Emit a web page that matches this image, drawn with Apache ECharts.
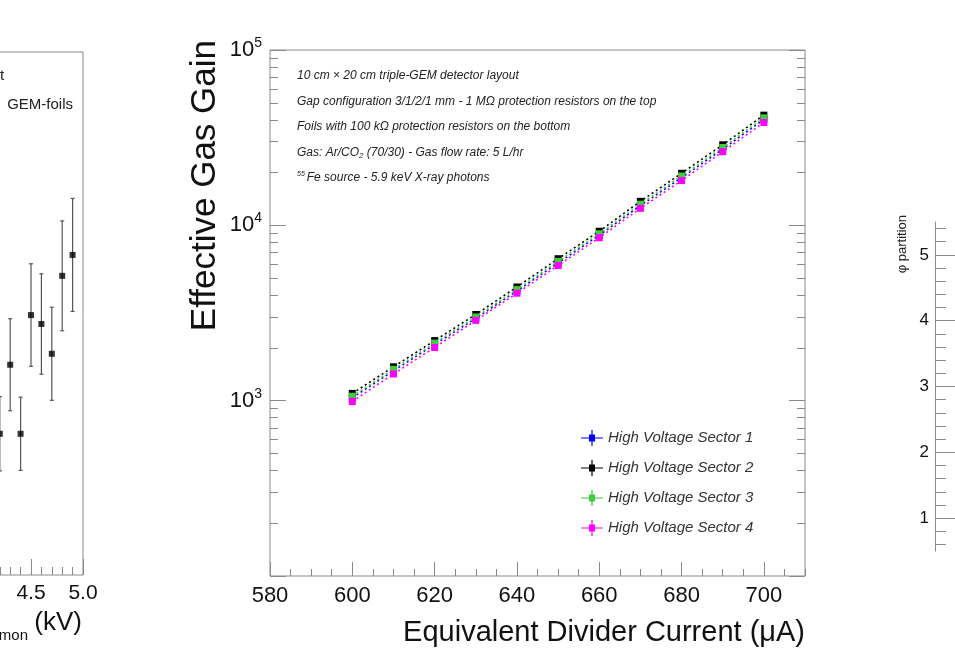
<!DOCTYPE html>
<html lang="en">
<head>
  <meta charset="UTF-8" />
  <title>Effective Gas Gain</title>
  <style>
    html, body { margin: 0; padding: 0; background: #fff; }
    #main { width: 955px; height: 649px; }
  </style>
</head>
<body>
  <div id="main"></div>
  <script src="https://cdn.jsdelivr.net/npm/echarts@6/dist/echarts.min.js"></script>
  <script type="text/javascript">
    // centre panel: gain vs equivalent divider current
    var current = [600, 610, 620, 630, 640, 650, 660, 670, 680, 690, 700]
    var sector1 = [1040, 1480, 2090, 2950, 4220, 6100, 8780, 12950, 18700, 27200, 40200]
    var sector2 = [1100, 1560, 2200, 3100, 4450, 6450, 9250, 13700, 19800, 28800, 42500]
    var sector3 = [1060, 1510, 2130, 3000, 4300, 6230, 8950, 13200, 19100, 27800, 41000]
    var sector4 = [990, 1420, 2010, 2870, 4100, 5900, 8500, 12500, 18000, 26300, 38600]
    var sectorNames = ['High Voltage Sector 1', 'High Voltage Sector 2', 'High Voltage Sector 3', 'High Voltage Sector 4']
    var sectorColors = ['#0000ff', '#000000', '#3fcc3f', '#ff00ff']

    var xMajor = [580, 600, 620, 640, 660, 680, 700]
    var gainDecades = [100, 1000, 10000, 100000]
    var gainLabels = [1000, 10000, 100000]
    var gainMinor = [200, 300, 400, 500, 600, 700, 800, 900,
      2000, 3000, 4000, 5000, 6000, 7000, 8000, 9000,
      20000, 30000, 40000, 50000, 60000, 70000, 80000, 90000]

    var notes = [
      '10 cm × 20 cm triple-GEM detector layout',
      'Gap configuration 3/1/2/1 mm - 1 MΩ protection resistors on the top',
      'Foils with 100 kΩ protection resistors on the bottom',
      'Gas: Ar/CO{sub|2} (70/30) - Gas flow rate: 5 L/hr',
      '{sup|55}Fe source - 5.9 keV X-ray photons'
    ]

    // left panel (cut off by the crop)
    var hvX = [4.2, 4.3, 4.4, 4.5, 4.6, 4.7, 4.8, 4.9]
    var hvY = [27.0, 40.2, 27.0, 49.7, 48.0, 42.3, 57.2, 61.2]
    var hvErr = [7.1, 8.8, 7.0, 9.8, 9.6, 8.9, 10.5, 10.8]
    var hvMajor = [4.0, 4.5, 5.0]
    var hvLabels = [4.5, 5.0]

    // right panel (cut off by the crop)
    var phiMajor = [1, 2, 3, 4, 5]
    var phiMinor = [0.6, 0.8, 1.2, 1.4, 1.6, 1.8, 2.2, 2.4, 2.6, 2.8, 3.2, 3.4, 3.6, 3.8,
      4.2, 4.4, 4.6, 4.8, 5.2, 5.4]

    var FONT = '"Liberation Sans", Arial, Helvetica, sans-serif'
    var frame = '#8a8a8a'

    var myChart = echarts.init(document.getElementById('main'))

    // extra axis that only draws ticks (minor ticks, mirrored ticks)
    function tickAxis(extra) {
      var base = {
        axisLine: { show: false },
        splitLine: { show: false },
        axisLabel: { show: false }
      }
      return Object.assign(base, extra)
    }

    function renderErr(params, api) {
      var x = api.value(0), y = api.value(1), e = api.value(2)
      var top = api.coord([x, y + e])
      var bot = api.coord([x, y - e])
      var style = { stroke: '#555', lineWidth: 1.2 }
      return {
        type: 'group',
        children: [
          { type: 'line', shape: { x1: top[0], y1: top[1], x2: bot[0], y2: bot[1] }, style: style },
          { type: 'line', shape: { x1: top[0] - 2, y1: top[1], x2: top[0] + 2, y2: top[1] }, style: style },
          { type: 'line', shape: { x1: bot[0] - 2, y1: bot[1], x2: bot[0] + 2, y2: bot[1] }, style: style }
        ]
      }
    }

    var sectors = [sector1, sector2, sector3, sector4]
    var sectorSeries = sectors.map(function (s, i) {
      return {
        name: sectorNames[i],
        type: 'line',
        xAxisIndex: 0,
        yAxisIndex: 0,
        data: current.map(function (x, k) { return [x, s[k]] }),
        symbol: 'rect',
        symbolSize: 7,
        showSymbol: true,
        itemStyle: { color: sectorColors[i] },
        lineStyle: { color: sectorColors[i], width: 1.6, type: [2, 3] },
        z: 3 + i
      }
    })

    var noteTexts = notes.map(function (t, i) {
      return {
        type: 'text',
        x: 297,
        y: 76 + i * 25.5,
        style: {
          text: t,
          fontFamily: FONT,
          fontStyle: 'italic',
          fontSize: 12,
          fill: '#222',
          verticalAlign: 'middle',
          rich: {
            sub: { fontFamily: FONT, fontStyle: 'italic', fontSize: 8, fill: '#222', padding: [7, 0, 0, 0] },
            sup: { fontFamily: FONT, fontStyle: 'italic', fontSize: 7, fill: '#222', padding: [0, 2, 8, 0] }
          }
        }
      }
    })

    var tickStyle = { color: frame, width: 1 }

    var option = {
      animation: false,
      backgroundColor: '#fff',
      grid: [
        { left: 270, right: 150, top: 50, bottom: 73, show: true, borderColor: frame, borderWidth: 1, outerBoundsMode: 'none' },
        { left: -21, right: 872, top: 52, bottom: 74, show: true, borderColor: frame, borderWidth: 1, outerBoundsMode: 'none' },
        { left: 935, right: -40, top: 222, bottom: 98, show: false, outerBoundsMode: 'none' }
      ],
      legend: {
        orient: 'vertical',
        left: 576,
        top: 425,
        itemGap: 14,
        itemWidth: 22,
        itemHeight: 16,
        icon: 'path://M0,7.4H22V8.6H0Z M10.4,0H11.6V16H10.4Z M8,4.5H14V11.5H8Z',
        itemStyle: { borderWidth: 0 },
        textStyle: { fontFamily: FONT, fontStyle: 'italic', fontSize: 15, color: '#333' },
        data: sectorNames
      },
      xAxis: [
        {
          type: 'value', gridIndex: 0, min: 580, max: 710, position: 'bottom',
          axisLine: { show: false }, splitLine: { show: false },
          axisTick: { show: true, inside: true, length: 14, customValues: xMajor, lineStyle: tickStyle },
          axisLabel: { customValues: xMajor, fontFamily: FONT, fontSize: 22, color: '#111', margin: 9 }
        },
        tickAxis({ type: 'value', gridIndex: 0, min: 580, max: 710, interval: 5, position: 'bottom',
          axisTick: { show: true, inside: true, length: 7, lineStyle: tickStyle } }),
        {
          type: 'value', gridIndex: 1, min: 4.0, max: 5.0, position: 'bottom',
          axisLine: { show: false }, splitLine: { show: false },
          axisTick: { show: true, inside: true, length: 16, customValues: hvMajor, lineStyle: tickStyle },
          axisLabel: { customValues: hvLabels, fontFamily: FONT, fontSize: 21, color: '#111', margin: 8,
            formatter: function (v) { return v.toFixed(1) } }
        },
        tickAxis({ type: 'value', gridIndex: 1, min: 4.0, max: 5.0, interval: 0.1, position: 'bottom',
          axisTick: { show: true, inside: true, length: 8, lineStyle: tickStyle } }),
        { type: 'value', gridIndex: 2, show: false, min: 0, max: 1 }
      ],
      yAxis: [
        {
          type: 'log', logBase: 10, gridIndex: 0, min: 100, max: 100000, position: 'left',
          axisLine: { show: false }, splitLine: { show: false },
          axisTick: { show: true, inside: true, length: 16, customValues: gainDecades, lineStyle: tickStyle },
          axisLabel: {
            customValues: gainLabels, margin: 8, color: '#111',
            formatter: function (v) { return '{a|10}{b|' + Math.round(Math.log10(v)) + '}' },
            rich: {
              a: { fontFamily: FONT, fontSize: 22, color: '#111' },
              b: { fontFamily: FONT, fontSize: 14, color: '#111', padding: [0, 0, 14, 0] }
            }
          }
        },
        tickAxis({ type: 'log', logBase: 10, gridIndex: 0, min: 100, max: 100000, position: 'left',
          axisTick: { show: true, inside: true, length: 8, customValues: gainMinor, lineStyle: tickStyle } }),
        tickAxis({ type: 'log', logBase: 10, gridIndex: 0, min: 100, max: 100000, position: 'right',
          axisTick: { show: true, inside: true, length: 16, customValues: gainDecades, lineStyle: tickStyle } }),
        tickAxis({ type: 'log', logBase: 10, gridIndex: 0, min: 100, max: 100000, position: 'right',
          axisTick: { show: true, inside: true, length: 8, customValues: gainMinor, lineStyle: tickStyle } }),
        { type: 'value', gridIndex: 1, min: 0, max: 100, show: false },
        {
          type: 'value', gridIndex: 2, min: 0.5, max: 5.5, position: 'left',
          axisLine: { show: true, lineStyle: { color: frame } }, splitLine: { show: false },
          axisTick: { show: true, inside: true, length: 20, customValues: phiMajor, lineStyle: tickStyle },
          axisLabel: { customValues: phiMajor, fontFamily: FONT, fontSize: 17, color: '#111', margin: 6 }
        },
        tickAxis({ type: 'value', gridIndex: 2, min: 0.5, max: 5.5, position: 'left',
          axisTick: { show: true, inside: true, length: 11, customValues: phiMinor, lineStyle: tickStyle } })
      ],
      graphic: noteTexts.concat([
        {
          type: 'text', x: 205, y: 40, rotation: Math.PI / 2,
          style: { text: 'Effective Gas Gain', fontFamily: FONT, fontSize: 35, fill: '#111', align: 'right', verticalAlign: 'middle' }
        },
        {
          type: 'text', x: 805, y: 633,
          style: { text: 'Equivalent Divider Current (μA)', fontFamily: FONT, fontSize: 29, fill: '#111', align: 'right', verticalAlign: 'middle' }
        },
        {
          type: 'text', x: 0, y: 76,
          style: { text: 't', fontFamily: FONT, fontSize: 15, fill: '#222', align: 'left', verticalAlign: 'middle' }
        },
        {
          type: 'text', x: 73, y: 105,
          style: { text: 'GEM-foils', fontFamily: FONT, fontSize: 15, fill: '#222', align: 'right', verticalAlign: 'middle' }
        },
        {
          type: 'text', x: 82, y: 623,
          style: { text: '(kV)', fontFamily: FONT, fontSize: 26, fill: '#111', align: 'right', verticalAlign: 'middle' }
        },
        {
          type: 'text', x: 28, y: 636,
          style: { text: 'mon', fontFamily: FONT, fontSize: 15, fill: '#111', align: 'right', verticalAlign: 'middle' }
        },
        {
          type: 'text', x: 902, y: 215, rotation: Math.PI / 2,
          style: { text: 'φ partition', fontFamily: FONT, fontSize: 13, fill: '#222', align: 'right', verticalAlign: 'middle' }
        }
      ]),
      series: sectorSeries.concat([
        {
          type: 'custom',
          xAxisIndex: 2,
          yAxisIndex: 4,
          renderItem: renderErr,
          encode: { x: 0, y: 1 },
          data: hvX.map(function (x, i) { return [x, hvY[i], hvErr[i]] }),
          z: 2
        },
        {
          type: 'scatter',
          xAxisIndex: 2,
          yAxisIndex: 4,
          symbol: 'rect',
          symbolSize: 6,
          itemStyle: { color: '#000' },
          data: hvX.map(function (x, i) { return [x, hvY[i]] }),
          z: 3
        }
      ])
    }

    myChart.setOption(option)
  </script>
</body>
</html>
